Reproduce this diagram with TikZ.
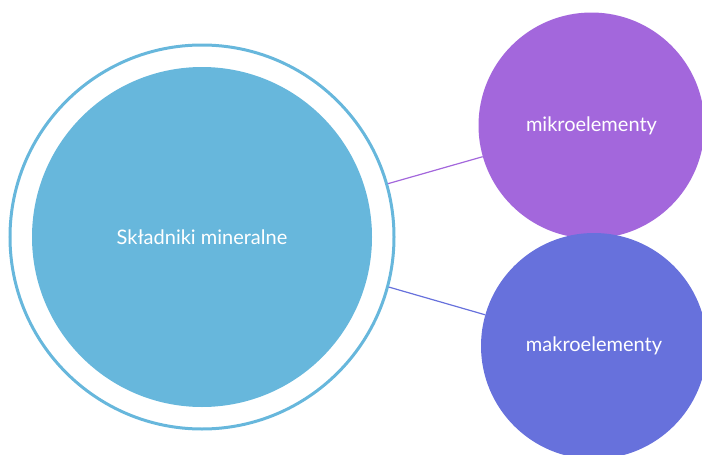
\documentclass[tikz,border=0pt]{standalone}
\usepackage{fontspec}
\setmainfont{Lato}
\definecolor{cblue}{HTML}{67B7DC}
\definecolor{cpurple}{HTML}{A367DC}
\definecolor{cindigo}{HTML}{6771DC}
\begin{document}
\begin{tikzpicture}[x=1pt,y=-1pt,
  bubble/.style={circle,inner sep=0pt,text=white,font=\fontsize{20}{24}\selectfont},
  link/.style={line width=1.2pt}]
\useasboundingbox (0,0) rectangle (702,455);
\begin{scope}
\clip (0,0) rectangle (702,455);
\node[bubble,fill=cblue,minimum size=340pt] (root) at (202,237) {Składniki mineralne};
\node[circle,draw=cblue,line width=3pt,minimum size=384pt] (ring) at (202,237) {};
\node[bubble,fill=cpurple,minimum size=226pt] (mikro) at (591.5,125.5) {mikroelementy};
\node[bubble,fill=cindigo,minimum size=226pt] (makro) at (594,346) {makroelementy};
\draw[link,cpurple] (ring.{16.4}) -- (mikro.{196.3});
\draw[link,cindigo] (ring.{-15.4}) -- (makro.{164});
\end{scope}
\end{tikzpicture}
\end{document}
